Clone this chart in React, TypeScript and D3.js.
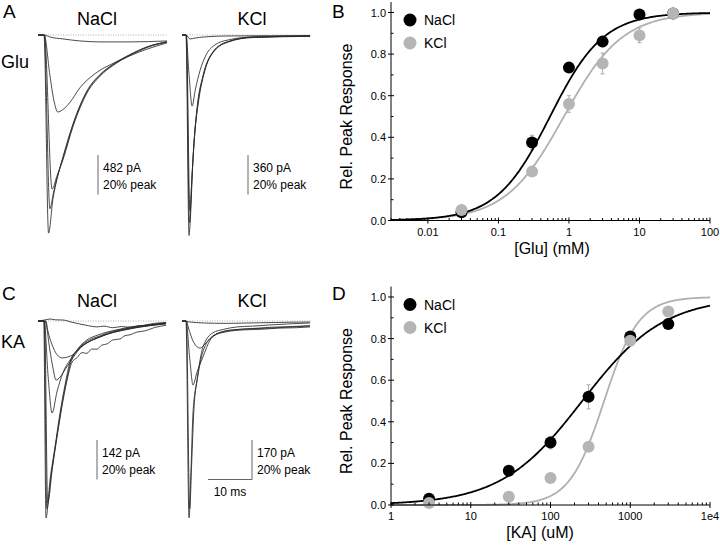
import React from 'react';
import * as d3 from 'd3';

const FONT = "'Liberation Sans', Arial, Helvetica, sans-serif";

// ---------- Panel B : glutamate dose-response ----------
const gluConc = [0.03, 0.3, 1, 3, 10, 30];
const gluNaCl = [0.04, 0.375, 0.735, 0.86, 0.99, 0.995];
const gluNaClErr = [0.01, 0.035, 0.02, 0.025, 0.01, 0.01];
const gluKCl = [0.05, 0.235, 0.56, 0.755, 0.89, 0.995];
const gluKClErr = [0.01, 0.02, 0.04, 0.05, 0.035, 0.01];
const gluFitNaCl = { ec50: 0.54, n: 1.15 };
const gluFitKCl = { ec50: 0.85, n: 1.05 };
const gluTickValues = [0.01, 0.1, 1, 10, 100];
const gluTickLabels = ['0.01', '0.1', '1', '10', '100'];
const gluDomain = [0.003, 100];

// ---------- Panel D : kainate dose-response ----------
const kaConc = [3, 30, 100, 300, 1000, 3000];
const kaNaCl = [0.03, 0.165, 0.3, 0.52, 0.81, 0.87];
const kaNaClErr = [0.01, 0.015, 0.03, 0.058, 0.015, 0.01];
const kaKCl = [0.01, 0.04, 0.13, 0.28, 0.79, 0.93];
const kaKClErr = [0.005, 0.01, 0.01, 0.015, 0.01, 0.01];
const kaFitNaCl = { ec50: 250, n: 0.85 };
const kaFitKCl = { ec50: 470, n: 2.0 };
const kaTickValues = [1, 10, 100, 1000, 10000];
const kaTickLabels = ['1', '10', '100', '1000', '1e4'];
const kaDomain = [1, 10000];

const yMajor = [0, 0.2, 0.4, 0.6, 0.8, 1.0];
const yMajorLabels = ['0.0', '0.2', '0.4', '0.6', '0.8', '1.0'];
const yMinor = [0.1, 0.3, 0.5, 0.7, 0.9];

// ---------- Traces: [time (ms), current (% of peak)] ----------
const gluNaTraces: number[][][] = [
  [[0,0],[1.36,0],[2.4,-100.3],[3.4,-83],[4.3,-73],[5.68,-62.3],[7.95,-45.6],[11.1,-28.9],[14.1,-20.3],[17.0,-15.2],[20.9,-10.1],[24.8,-6.1],[29.3,-3.5]],
  [[0,0],[1.4,0],[2.7,-88],[3.5,-80],[4.4,-72],[5.7,-61.5],[7.95,-45],[11.1,-28.4],[14.1,-20],[17,-14.9],[20.9,-9.9],[24.8,-6],[29.3,-3.4]],
  [[0,0],[1.45,0],[3.2,-78],[4.3,-71.4],[5.7,-63],[7.95,-46.4],[11.1,-29.5],[14.1,-20.8],[17,-15.5],[20.9,-10.4],[24.8,-6.3],[29.3,-3.6]],
  [[0,0],[1.4,0],[2.7,-20.3],[3.6,-33],[4.5,-39],[5.5,-38],[7.3,-34],[9.5,-26.8],[13.2,-19.2],[17.7,-13.7],[23,-8.6],[29.3,-4]],
  [[0,0],[1.4,0],[2.7,-1],[5.7,-2],[9.5,-3],[14.1,-3.5],[20.9,-3.5],[29.3,-3]],
];
const gluKTraces: number[][][] = [
  [[0,0],[0.9,0],[1.6,-101.5],[1.8,-97],[2.5,-63],[3.4,-37.4],[4.8,-20.5],[7.0,-8.7],[10.2,-3.6],[16.1,-1],[29.1,-0.5]],
  [[0,0],[0.95,0],[1.7,-95],[2.2,-75],[2.7,-55],[3.6,-35],[5,-19],[7.2,-8.2],[10.4,-3.4],[16,-1.2],[29.1,-0.6]],
  [[0,0],[1.0,0],[1.8,-89],[2.3,-70],[2.9,-50],[3.8,-33],[5.2,-18],[7.4,-8],[10.6,-3.5],[16,-1.3],[29.1,-0.7]],
  [[0,0],[0.9,0],[1.6,-20],[2.3,-36],[3.0,-28],[4.1,-18],[5.5,-10],[7.5,-5],[10.5,-2.5],[16,-1],[29.1,-0.5]],
  [[0,0],[0.9,0],[1.8,-2],[3,-1.5],[5,-1],[10,-0.5],[29.1,-0.3]],
];
const kaNaTraces: number[][][] = [
  [[0,0],[1.3,0],[1.82,-99.7],[2.73,-80.5],[3.86,-63.8],[5.0,-46.6],[6.14,-32.4],[7.27,-20.8],[8.86,-14.7],[11.1,-9.6],[13.5,-7.2],[15.7,-5.6],[18.5,-4.2],[20.9,-3.0],[24,-2.2],[26.5,-1.2],[29.1,-0.8]],
  [[0,0],[1.4,0],[2.0,-95],[3.0,-78],[4.2,-60],[5.4,-43],[6.6,-29],[7.6,-20],[9.2,-14],[11.5,-9.8],[14,-7.6],[17,-5.2],[21,-3.6],[25,-2.4],[29.1,-1.2]],
  [[0,0],[1.5,0],[2.2,-92],[3.3,-74],[4.5,-56],[5.7,-40],[6.8,-28],[7.7,-21],[8.9,-18.5],[10,-16],[11.1,-16.4],[12.2,-14.2],[13.4,-14.3],[14.5,-12.2],[15.7,-11.6],[17,-9.6],[18.6,-9.1],[19.8,-7.4],[20.9,-7.0],[22.5,-5.6],[24.3,-5.0],[26.5,-3.3],[29.1,-2.2]],
  [[0,0],[1.4,0],[2.3,-28],[3.2,-46.6],[4.3,-36],[5.7,-26],[7.3,-19.7],[9.5,-13.7],[14.1,-8],[20.9,-3.5],[29.1,-1]],
  [[0,0],[1.6,0],[2.7,-14.7],[3.4,-23.8],[4.1,-29.9],[5.0,-28.4],[6.1,-24.8],[7.3,-20.8],[9.5,-14],[14,-8.2],[21,-3.8],[29.1,-1.3]],
  [[0,0],[1.8,0],[2.2,-4.6],[3.2,-12],[4.3,-17],[5.5,-18.7],[6.8,-18.2],[8.0,-17],[9.5,-13.7],[12,-10],[15,-7.2],[20,-4.4],[25,-2.5],[29.1,-1.5]],
  [[0,0],[1.5,0.5],[2.7,1],[4,0.6],[5.7,0.5],[7.5,-0.5],[9.5,-1.5],[11.5,-2.4],[13.4,-3],[15,-2.6],[17,-3.4],[19,-2.8],[20.9,-3.2],[23,-2.4],[25.5,-2.2],[27.5,-1.4],[29.1,-1]],
];
const kaKTraces: number[][][] = [
  [[0,0],[0.9,0],[1.6,-99.7],[2.05,-75],[2.5,-46.6],[3.4,-30],[4.8,-13],[7,-6],[9.5,-4.2],[12.5,-3],[16,-2.6],[20,-2.0],[24,-1.5],[29.1,-1]],
  [[0,0],[1.0,0],[1.75,-95],[2.2,-72],[2.7,-45],[3.6,-28],[5.0,-14],[7.2,-7.5],[10,-5.5],[14,-4.5],[18,-4.2],[22,-3.6],[26,-3.4],[29.1,-3]],
  [[0,0],[0.9,0],[1.8,-20],[2.5,-32.4],[3.4,-26],[4.8,-18],[6.4,-9.6],[8.5,-6],[12,-4.5],[16,-3.8],[20,-3.2],[25,-2.8],[29.1,-2.4]],
  [[0,0],[1.0,0],[1.4,-3],[2.7,-11],[4.1,-13.7],[5.5,-11],[7,-7.6],[10.9,-4.6],[15,-4],[20,-3.6],[25,-3],[29.1,-2.5]],
  [[0,0],[1.8,-0.5],[4.8,-1],[10,-1.2],[15,-1],[20,-0.8],[25,-0.6],[29.1,-0.5]],
];

const hill = (x: number, p: { ec50: number; n: number }) => 1 / (1 + Math.pow(p.ec50 / x, p.n));

const BLACK = '#000';
const GREY = '#b5b5b5';
const GREY_LINE = '#b0b0b0';
const ERR = '#999';

type DoseProps = {
  domain: number[]; left: number; right: number; yZero: number;
  conc: number[]; na: number[]; naErr: number[]; k: number[]; kErr: number[];
  fitNa: { ec50: number; n: number }; fitK: { ec50: number; n: number };
  tickValues: number[]; tickLabels: string[]; xTitle: string; xTitleX: number;
};

function DosePanel(p: DoseProps) {
  const x = d3.scaleLog().domain(p.domain).range([p.left, p.right]);
  const y = d3.scaleLinear().domain([0, 1.05]).range([p.yZero, p.yZero - 218.4]);
  const minorX = x.ticks().filter((v) => !p.tickValues.some((t) => Math.abs(t - v) / t < 1e-9));
  const [lo, hi] = p.domain;
  const samples = d3.range(0, 301).map((i) => lo * Math.pow(hi / lo, i / 300));
  const line = d3.line<number>().x((v) => x(v));
  const pathNa = line.y((v) => y(hill(v, p.fitNa)))(samples) as string;
  const pathK = d3.line<number>().x((v) => x(v)).y((v) => y(hill(v, p.fitK)))(samples) as string;
  const legY = y(1) + 7.5;
  const legX = p.left + 19;
  return (
    <g fontFamily={FONT}>
      {/* error bars */}
      {p.conc.map((c, i) => (
        <g key={'en' + i} stroke={ERR} strokeWidth={0.8}>
          <line x1={x(c)} x2={x(c)} y1={y(p.na[i] - p.naErr[i])} y2={y(p.na[i] + p.naErr[i])} />
          <line x1={x(c) - 2} x2={x(c) + 2} y1={y(p.na[i] - p.naErr[i])} y2={y(p.na[i] - p.naErr[i])} />
          <line x1={x(c) - 2} x2={x(c) + 2} y1={y(p.na[i] + p.naErr[i])} y2={y(p.na[i] + p.naErr[i])} />
          <line x1={x(c)} x2={x(c)} y1={y(p.k[i] - p.kErr[i])} y2={y(p.k[i] + p.kErr[i])} />
          <line x1={x(c) - 2} x2={x(c) + 2} y1={y(p.k[i] - p.kErr[i])} y2={y(p.k[i] - p.kErr[i])} />
          <line x1={x(c) - 2} x2={x(c) + 2} y1={y(p.k[i] + p.kErr[i])} y2={y(p.k[i] + p.kErr[i])} />
        </g>
      ))}
      <path d={pathK} fill="none" stroke={GREY_LINE} strokeWidth={1.8} />
      <path d={pathNa} fill="none" stroke={BLACK} strokeWidth={1.8} />
      {p.conc.map((c, i) => (
        <circle key={'n' + i} cx={x(c)} cy={y(p.na[i])} r={6} fill={BLACK} />
      ))}
      {p.conc.map((c, i) => (
        <circle key={'k' + i} cx={x(c)} cy={y(p.k[i])} r={6} fill={GREY} />
      ))}
      {/* axes */}
      <line x1={p.left} x2={p.left} y1={y(1.05)} y2={p.yZero} stroke="#000" strokeWidth={1} />
      <line x1={p.left} x2={p.right} y1={p.yZero} y2={p.yZero} stroke="#000" strokeWidth={1} />
      {yMajor.map((v, i) => (
        <g key={'ym' + i}>
          <line x1={p.left - 3} x2={p.left + 3} y1={y(v)} y2={y(v)} stroke="#000" />
          <text x={p.left - 5} y={y(v) + 4} fontSize={11} textAnchor="end">{yMajorLabels[i]}</text>
        </g>
      ))}
      {yMinor.map((v, i) => (
        <line key={'yn' + i} x1={p.left} x2={p.left + 2.5} y1={y(v)} y2={y(v)} stroke="#000" />
      ))}
      {p.tickValues.map((v, i) => (
        <g key={'xm' + i}>
          <line x1={x(v)} x2={x(v)} y1={p.yZero - 3} y2={p.yZero + 3} stroke="#000" />
          <text x={x(v)} y={p.yZero + 15} fontSize={11} textAnchor="middle">{p.tickLabels[i]}</text>
        </g>
      ))}
      {minorX.map((v, i) => (
        <line key={'xn' + i} x1={x(v)} x2={x(v)} y1={p.yZero} y2={p.yZero - 2.5} stroke="#000" />
      ))}
      <text x={p.xTitleX} y={p.yZero + 33} fontSize={16} textAnchor="middle">{p.xTitle}</text>
      <text transform={`translate(352,${y(0.5)}) rotate(-90)`} fontSize={16} textAnchor="middle">Rel. Peak Response</text>
      {/* legend */}
      <circle cx={legX} cy={legY} r={6.5} fill={BLACK} />
      <text x={legX + 14} y={legY + 5} fontSize={14}>NaCl</text>
      <circle cx={legX} cy={legY + 23} r={6.5} fill={GREY} />
      <text x={legX + 14} y={legY + 28} fontSize={14}>KCl</text>
    </g>
  );
}

type TraceProps = {
  x0: number; y0: number; traces: number[][][];
  barX: number; barTop: number; label: string; showTime?: boolean;
};

function TracePanel(p: TraceProps) {
  const xs = d3.scaleLinear().domain([0, 10]).range([p.x0, p.x0 + 44]);
  const ys = d3.scaleLinear().domain([0, -20]).range([p.y0, p.y0 + 39.5]);
  const line = d3.line<number[]>().x((d) => xs(d[0])).y((d) => ys(d[1])).curve(d3.curveMonotoneX);
  const barLen = ys(-20) - ys(0);
  const barBottom = p.barTop + barLen;
  return (
    <g fontFamily={FONT}>
      <line x1={xs(0)} x2={xs(29.3)} y1={ys(0)} y2={ys(0)} stroke="#999" strokeWidth={0.8} strokeDasharray="1,1.5" />
      {p.traces.map((t, i) => (
        <path key={i} d={line(t) as string} fill="none" stroke="#2a2a2a" strokeWidth={0.85} />
      ))}
      <line x1={p.barX} x2={p.barX} y1={p.barTop} y2={barBottom} stroke="#555" strokeWidth={0.9} />
      {p.showTime && (
        <g>
          <line x1={p.barX - (xs(10) - xs(0))} x2={p.barX} y1={barBottom} y2={barBottom} stroke="#555" strokeWidth={0.9} />
          <text x={p.barX - (xs(10) - xs(0)) / 2} y={barBottom + 16} fontSize={12} textAnchor="middle">10 ms</text>
        </g>
      )}
      <text x={p.barX + 5} y={p.barTop + 17} fontSize={12}>{p.label}</text>
      <text x={p.barX + 5} y={p.barTop + 34} fontSize={12}>20% peak</text>
    </g>
  );
}

export default function App() {
  return (
    <svg width={720} height={545} style={{ position: 'absolute', left: 0, top: 0, background: '#fff' }} fontFamily={FONT}>
      <rect width={720} height={545} fill="#fff" />
      {/* panel letters and titles */}
      <text x={3} y={18} fontSize={19}>A</text>
      <text x={332} y={18} fontSize={19}>B</text>
      <text x={2} y={300} fontSize={19}>C</text>
      <text x={332} y={300} fontSize={19}>D</text>
      <text x={97} y={25} fontSize={18} textAnchor="middle">NaCl</text>
      <text x={252} y={25} fontSize={18} textAnchor="middle">KCl</text>
      <text x={1} y={68} fontSize={18}>Glu</text>
      <text x={97} y={307} fontSize={18} textAnchor="middle">NaCl</text>
      <text x={252} y={307} fontSize={18} textAnchor="middle">KCl</text>
      <text x={1} y={348} fontSize={18}>KA</text>

      <TracePanel x0={38} y0={35} traces={gluNaTraces} barX={98} barTop={155} label="482 pA" />
      <TracePanel x0={182} y0={35} traces={gluKTraces} barX={248} barTop={155} label="360 pA" />
      <TracePanel x0={38} y0={321} traces={kaNaTraces} barX={97} barTop={440} label="142 pA" />
      <TracePanel x0={182} y0={321} traces={kaKTraces} barX={252} barTop={440} label="170 pA" showTime />

      <DosePanel domain={gluDomain} left={391} right={710} yZero={220.5}
        conc={gluConc} na={gluNaCl} naErr={gluNaClErr} k={gluKCl} kErr={gluKClErr}
        fitNa={gluFitNaCl} fitK={gluFitKCl} tickValues={gluTickValues} tickLabels={gluTickLabels}
        xTitle="[Glu] (mM)" xTitleX={552} />
      <DosePanel domain={kaDomain} left={391} right={710} yZero={505}
        conc={kaConc} na={kaNaCl} naErr={kaNaClErr} k={kaKCl} kErr={kaKClErr}
        fitNa={kaFitNaCl} fitK={kaFitKCl} tickValues={kaTickValues} tickLabels={kaTickLabels}
        xTitle="[KA] (uM)" xTitleX={540} />
    </svg>
  );
}
